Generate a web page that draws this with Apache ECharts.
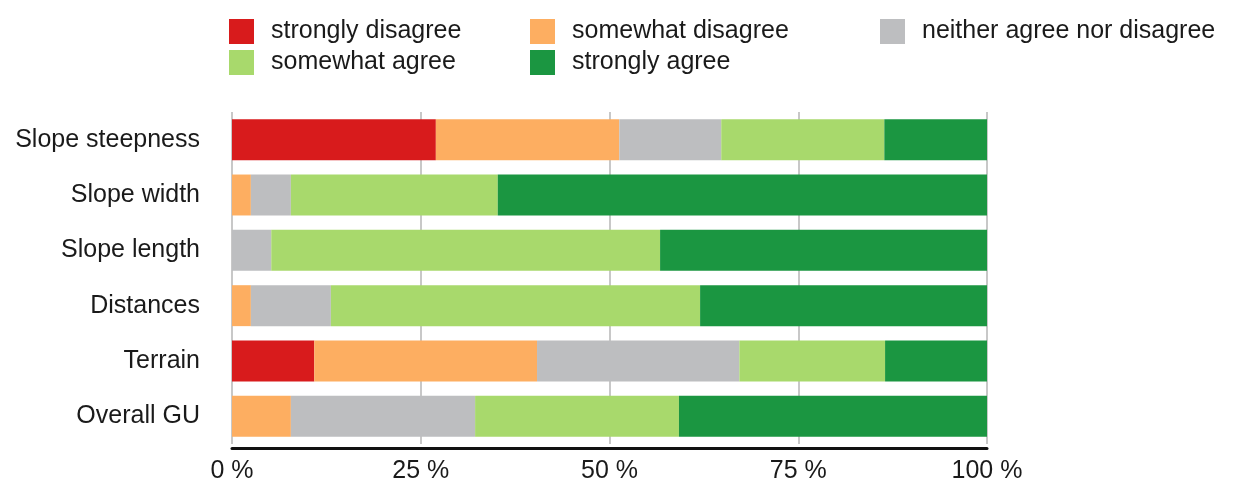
<!DOCTYPE html>
<html>
<head>
<meta charset="utf-8">
<script src="https://cdn.jsdelivr.net/npm/echarts@6/dist/echarts.min.js"></script>
<style>
    html, body { margin: 0; padding: 0; background: #fff; }
    #main { width: 1236px; height: 491px; }
</style>
</head>
<body>
<div id="main"></div>
<script>
// categories, top to bottom
const categories = ['Slope steepness', 'Slope width', 'Slope length', 'Distances', 'Terrain', 'Overall GU']
const seriesNames = ['strongly disagree', 'somewhat disagree', 'neither agree nor disagree', 'somewhat agree', 'strongly agree']
// percent per answer, same order as categories
const stronglyDisagree = [27.0, 0, 0, 0, 10.9, 0]
const somewhatDisagree = [24.3, 2.5, 0, 2.5, 29.5, 7.8]
const neitherAgree = [13.5, 5.3, 5.2, 10.6, 26.8, 24.4]
const somewhatAgree = [21.6, 27.4, 51.5, 48.9, 19.3, 27.0]
const stronglyAgree = [13.6, 64.8, 43.3, 38.0, 13.5, 40.8]
const xTicks = [0, 25, 50, 75, 100]

const colors = ['#d81b1c', '#fdae61', '#bdbec0', '#a8d96c', '#1b9641']
const values = [stronglyDisagree, somewhatDisagree, neitherAgree, somewhatAgree, stronglyAgree]
const font = 'Liberation Sans, Arial, sans-serif'

const legendText = {
    color: '#1a1a1a',
    fontFamily: font,
    fontSize: 25,
    lineHeight: 25,
    padding: [0, 0, 0, 12]
}
function makeLegend(left, names) {
    return {
        orient: 'vertical',
        left: left,
        top: 19,
        padding: 0,
        itemWidth: 25,
        itemHeight: 25,
        itemGap: 6,
        icon: 'rect',
        selectedMode: false,
        textStyle: legendText,
        data: names
    }
}

const option = {
    animation: false,
    color: colors,
    legend: [
        makeLegend(229, [seriesNames[0], seriesNames[3]]),
        makeLegend(530, [seriesNames[1], seriesNames[4]]),
        makeLegend(880, [seriesNames[2]])
    ],
    grid: {
        left: 232,
        right: 249,
        top: 112,
        bottom: 47,
        containLabel: false
    },
    xAxis: {
        type: 'value',
        min: xTicks[0],
        max: xTicks[xTicks.length - 1],
        interval: 25,
        offset: 4,
        axisLabel: {
            formatter: '{value} %',
            color: '#1a1a1a',
            fontFamily: font,
            fontSize: 25,
            margin: 11
        },
        axisTick: { show: false },
        axisLine: {
            show: true,
            lineStyle: { color: '#111', width: 3 }
        },
        splitLine: {
            show: true,
            lineStyle: { color: '#c8c8c8', width: 2 }
        }
    },
    yAxis: {
        type: 'category',
        inverse: true,
        data: categories,
        axisLabel: {
            color: '#1a1a1a',
            fontFamily: font,
            fontSize: 25,
            margin: 32
        },
        axisTick: { show: false },
        axisLine: { show: false }
    },
    series: seriesNames.map(function (name, i) {
        return {
            name: name,
            type: 'bar',
            stack: 'total',
            barCategoryGap: '26%',
            data: values[i],
            itemStyle: { color: colors[i] }
        }
    })
}

const chart = echarts.init(document.getElementById('main'))
chart.setOption(option)
window.addEventListener('resize', function () { chart.resize() })
</script>
</body>
</html>
